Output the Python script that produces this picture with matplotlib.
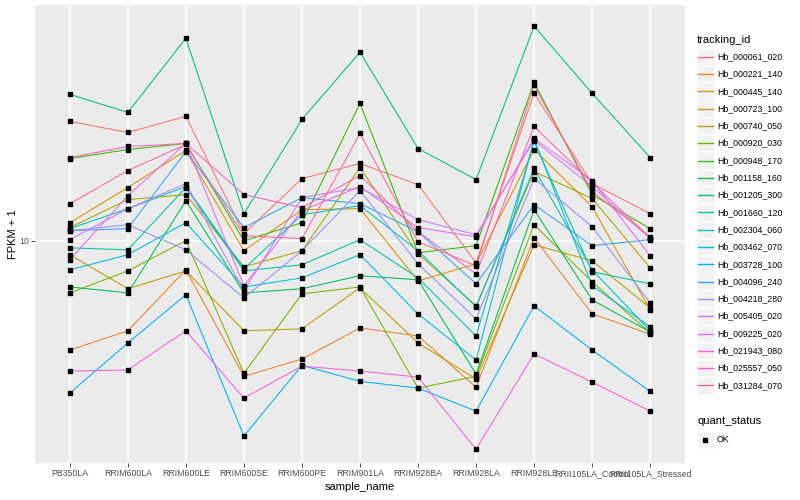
import matplotlib.pyplot as plt
from matplotlib.patches import Rectangle
from matplotlib.ticker import NullLocator
import numpy as np

samples = ["PB350LA", "RRIM600LA", "RRIM600LE", "RRIM600SE", "RRIM600PE",
           "RRIM901LA", "RRIM928BA", "RRIM928LA", "RRIM928LE",
           "RRII105LA_Control", "RRII105LA_Stressed"]

tracking_ids = ["Hb_000061_020", "Hb_000221_140", "Hb_000445_140", "Hb_000723_100",
                "Hb_000740_050", "Hb_000920_030", "Hb_000948_170", "Hb_001158_160",
                "Hb_001205_300", "Hb_001660_120", "Hb_002304_060", "Hb_003462_070",
                "Hb_003728_100", "Hb_004096_240", "Hb_004218_280", "Hb_005405_020",
                "Hb_009225_020", "Hb_021943_080", "Hb_025557_050", "Hb_031284_070"]

# ggplot default hue palette for 20 levels
colors = ["#F8766D", "#EA8331", "#D89000", "#C09B00", "#A3A500", "#7CAE00",
          "#39B600", "#00BB4E", "#00BF7D", "#00C1A3", "#00BFC4", "#00BAE0",
          "#00B0F6", "#35A2FF", "#9590FF", "#C77CFF", "#E76BF3", "#FA62DB",
          "#FF62BC", "#FF6A98"]

# FPKM + 1, one value per sample
hb_000061_020 = [19.84, 18.62, 20.42, 10.41, 14.29, 15.58, 13.80, 8.81, 23.31, 13.88, 11.68]
hb_000221_140 = [5.34, 5.96, 8.46, 4.59, 5.07, 6.06, 5.79, 4.31, 10.17, 6.57, 5.85]
hb_000445_140 = [11.09, 13.57, 16.79, 9.44, 11.95, 12.02, 7.94, 8.76, 16.88, 12.16, 6.72]
hb_000723_100 = [9.23, 7.59, 8.41, 5.96, 6.03, 7.63, 5.56, 4.52, 9.77, 8.91, 6.80]
hb_000740_050 = [10.78, 12.66, 13.03, 8.61, 9.44, 15.22, 9.28, 6.88, 14.88, 12.74, 8.56]
hb_000920_030 = [7.41, 8.41, 10.00, 4.67, 7.37, 7.67, 4.29, 4.59, 10.96, 7.90, 5.89]
hb_000948_170 = [16.03, 16.88, 17.48, 10.00, 11.09, 22.00, 9.33, 9.72, 24.83, 13.03, 10.72]
hb_001158_160 = [7.67, 7.41, 12.59, 7.41, 7.59, 8.18, 7.99, 4.65, 11.95, 7.12, 5.92]
hb_001205_300 = [23.17, 20.89, 31.99, 11.68, 20.07, 29.51, 16.98, 14.21, 34.28, 23.31, 16.12]
hb_001660_120 = [9.60, 9.49, 13.57, 8.41, 8.71, 10.06, 8.08, 5.79, 17.68, 8.37, 7.81]
hb_002304_060 = [10.72, 12.02, 13.65, 8.51, 11.61, 12.23, 9.44, 6.84, 15.14, 8.46, 5.96]
hb_003462_070 = [8.46, 9.23, 11.09, 7.67, 8.08, 9.23, 6.57, 5.04, 17.89, 7.72, 6.10]
hb_003728_100 = [4.17, 5.56, 7.33, 3.26, 4.89, 4.46, 4.29, 3.76, 6.88, 5.34, 4.21]
hb_004096_240 = [10.59, 10.72, 16.69, 10.78, 12.81, 12.37, 10.53, 7.81, 12.30, 9.72, 10.06]
hb_004218_280 = [10.59, 10.96, 9.49, 7.20, 9.44, 13.34, 8.76, 6.38, 14.29, 10.84, 7.00]
hb_005405_020 = [10.06, 12.02, 13.88, 7.50, 12.81, 13.57, 11.29, 10.35, 17.78, 13.65, 10.12]
hb_009225_020 = [8.96, 12.96, 17.48, 7.72, 11.89, 13.65, 10.78, 10.23, 17.99, 14.13, 9.17]
hb_021943_080 = [4.73, 4.76, 5.96, 4.05, 4.87, 4.73, 4.57, 3.02, 5.22, 4.44, 3.76]
hb_025557_050 = [16.12, 17.18, 17.48, 13.03, 12.09, 14.54, 10.53, 8.27, 19.28, 13.96, 10.17]
hb_031284_070 = [12.37, 14.96, 17.38, 10.29, 10.12, 18.51, 9.94, 8.66, 24.41, 13.26, 10.23]

fpkm = [hb_000061_020, hb_000221_140, hb_000445_140, hb_000723_100, hb_000740_050,
        hb_000920_030, hb_000948_170, hb_001158_160, hb_001205_300, hb_001660_120,
        hb_002304_060, hb_003462_070, hb_003728_100, hb_004096_240, hb_004218_280,
        hb_005405_020, hb_009225_020, hb_021943_080, hb_025557_050, hb_031284_070]

plt.rcParams['font.family'] = ['Liberation Sans', 'DejaVu Sans']

fig = plt.figure(figsize=(8, 5), dpi=100)
ax = fig.add_axes([35 / 800, 37 / 500, 650 / 800, 458 / 500])
ax.set_facecolor('#EBEBEB')

x = np.arange(len(samples))
for vals, col in zip(fpkm, colors):
    ax.plot(x, vals, color=col, lw=0.75, zorder=2)
for vals in fpkm:
    ax.plot(x, vals, ls='none', marker='s', ms=2.3, color='black', zorder=3)

ax.set_yscale('log')
lo = np.log10(min(min(v) for v in fpkm))
hi = np.log10(max(max(v) for v in fpkm))
pad = 0.05 * (hi - lo)
ax.set_ylim(10 ** (lo - pad * 0.65), 10 ** (hi + pad))
ax.set_xlim(-0.6, len(samples) - 0.4)
ax.set_yticks([10])
ax.set_yticklabels(['10'])
ax.yaxis.set_minor_locator(NullLocator())
ax.set_xticks(x)
ax.set_xticklabels(samples)

ax.grid(True, color='white', lw=1.2)
ax.set_axisbelow(True)
for s in ax.spines.values():
    s.set_visible(False)
ax.tick_params(colors='#333333', labelcolor='#4D4D4D', labelsize=6.3,
               length=2.7, width=0.6, pad=1.5)
ax.set_xlabel('sample_name', fontsize=8, labelpad=3)
ax.set_ylabel('FPKM + 1', fontsize=8, labelpad=1)

# legends drawn in pixel coordinates
leg = fig.add_axes([0, 0, 1, 1])
leg.set_xlim(0, 800)
leg.set_ylim(500, 0)
leg.axis('off')

leg.text(697, 40, 'tracking_id', fontsize=8, va='center')
for i, (name, col) in enumerate(zip(tracking_ids, colors)):
    yc = 56.7 + i * 17.3
    leg.add_patch(Rectangle((697, yc - 8.2), 16.5, 16.4, fc='#F2F2F2', ec='white', lw=0.6))
    leg.plot([697.5, 713], [yc, yc], color=col, lw=1.0)
    leg.text(717, yc, name, fontsize=6.3, va='center')

leg.text(697, 421, 'quant_status', fontsize=8, va='center')
leg.add_patch(Rectangle((697, 431.8), 16.5, 16.4, fc='#F2F2F2', ec='white', lw=0.6))
leg.plot([705.2], [440], ls='none', marker='s', ms=2.6, color='black')
leg.text(717, 440, 'OK', fontsize=6.3, va='center')

fig.savefig('out.png', dpi=100)
